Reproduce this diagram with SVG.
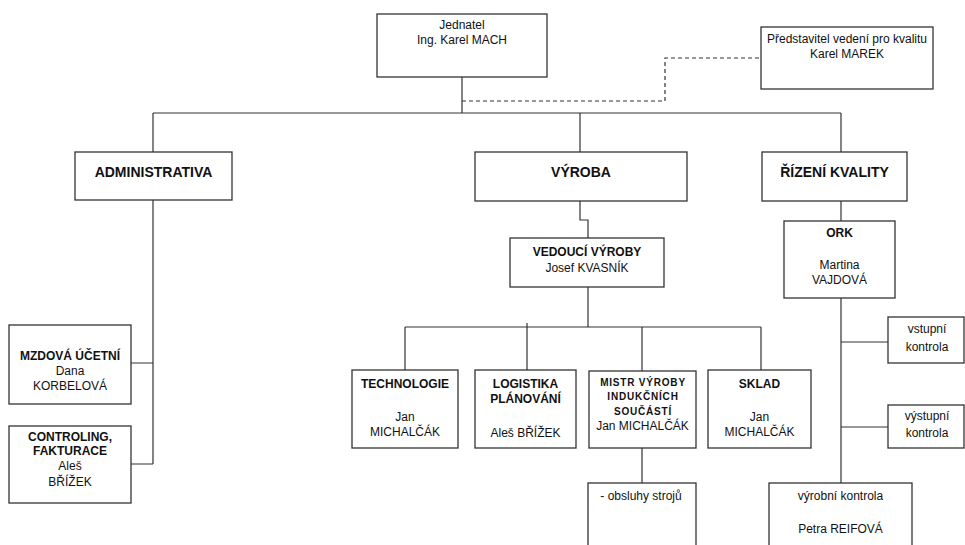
<svg xmlns="http://www.w3.org/2000/svg" width="965" height="545" viewBox="0 0 965 545">
<style>
.box{fill:#fff;stroke:#333;stroke-width:1.3}
.ln{fill:none;stroke:#333;stroke-width:1.2}
.dash{fill:none;stroke:#333;stroke-width:1.2;stroke-dasharray:4 3}
text{font-family:"Liberation Sans",Arial,sans-serif;font-size:12px;fill:#111;text-anchor:middle}
.b{font-weight:bold}
.h{font-weight:bold;font-size:14px}
.m{font-weight:bold;font-size:10px;letter-spacing:0.8px}
</style>
<rect width="965" height="545" fill="#fff"/>
<g id="connectors">
<path class="ln" d="M462,77V113M153,113H841M153,113V152M580,113V152M841,113V152"/>
<path class="dash" d="M462,101H665V58H761"/>
<path class="ln" d="M153,200V464M131,363H153M131,464H153"/>
<path class="ln" d="M580,201V220H588V238M588,287V327M405,327H761M405,327V370M527,323V370M642,327V371M761,327V370M642,448V483"/>
<path class="ln" d="M841,201V221M841,298V483M841,342H888M841,427H888"/>
</g>
<g id="jednatel"><rect class="box" x="377" y="14" width="170" height="63"/><text x="462" y="29">Jednatel</text><text x="462" y="44">Ing. Karel MACH</text></g>
<g id="predstavitel"><rect class="box" x="761" y="27" width="172" height="62"/><text x="847" y="43">Představitel vedení pro kvalitu</text><text x="847" y="58">Karel MAREK</text></g>
<g id="administrativa"><rect class="box" x="75" y="152" width="157" height="48"/><text class="h" x="153.5" y="177">ADMINISTRATIVA</text></g>
<g id="vyroba"><rect class="box" x="475" y="152" width="212" height="49"/><text class="h" x="581" y="177">VÝROBA</text></g>
<g id="rizeni"><rect class="box" x="762" y="152" width="145" height="49"/><text class="h" x="834.5" y="177">ŘÍZENÍ KVALITY</text></g>
<g id="vedouci"><rect class="box" x="510" y="238" width="154" height="49"/><text class="b" x="587" y="256">VEDOUCÍ VÝROBY</text><text x="587" y="272">Josef KVASNÍK</text></g>
<g id="ork"><rect class="box" x="784" y="221" width="111" height="77"/><text class="b" x="839.5" y="237">ORK</text><text x="839.5" y="269">Martina</text><text x="839.5" y="284">VAJDOVÁ</text></g>
<g id="mzdova"><rect class="box" x="9" y="325" width="122" height="79"/><text class="b" x="70" y="360">MZDOVÁ ÚČETNÍ</text><text x="70" y="375">Dana</text><text x="70" y="390">KORBELOVÁ</text></g>
<g id="controling"><rect class="box" x="9" y="426" width="122" height="77"/><text class="b" x="70" y="441">CONTROLING,</text><text class="b" x="70" y="455">FAKTURACE</text><text x="70" y="470">Aleš</text><text x="70" y="486">BŘÍŽEK</text></g>
<g id="technologie"><rect class="box" x="352" y="370" width="106" height="78"/><text class="b" x="405" y="388">TECHNOLOGIE</text><text x="405" y="421">Jan</text><text x="405" y="436">MICHALČÁK</text></g>
<g id="logistika"><rect class="box" x="475" y="370" width="101" height="78"/><text class="b" x="525.5" y="388">LOGISTIKA</text><text class="b" x="525.5" y="403">PLÁNOVÁNÍ</text><text x="525.5" y="437">Aleš BŘÍŽEK</text></g>
<g id="mistr"><rect class="box" x="589" y="371" width="107" height="77"/><text class="m" x="643" y="386">MISTR VÝROBY</text><text class="m" x="643" y="400">INDUKČNÍCH</text><text class="m" x="643" y="415">SOUČÁSTÍ</text><text x="642.5" y="430">Jan MICHALČÁK</text></g>
<g id="sklad"><rect class="box" x="708" y="370" width="103" height="78"/><text class="b" x="759.5" y="388">SKLAD</text><text x="759.5" y="421">Jan</text><text x="759.5" y="436">MICHALČÁK</text></g>
<g id="obsluhy"><rect class="box" x="588" y="483" width="108" height="80"/><text x="641" y="500">- obsluhy strojů</text></g>
<g id="vstupni"><rect class="box" x="888" y="317" width="76" height="46"/><text x="927" y="333">vstupní</text><text x="927" y="351">kontrola</text></g>
<g id="vystupni"><rect class="box" x="888" y="405" width="76" height="43"/><text x="927" y="420">výstupní</text><text x="927" y="437">kontrola</text></g>
<g id="vyrobni"><rect class="box" x="769" y="483" width="143" height="80"/><text x="840.5" y="500">výrobní kontrola</text><text x="840.5" y="533">Petra REIFOVÁ</text></g>
</svg>
